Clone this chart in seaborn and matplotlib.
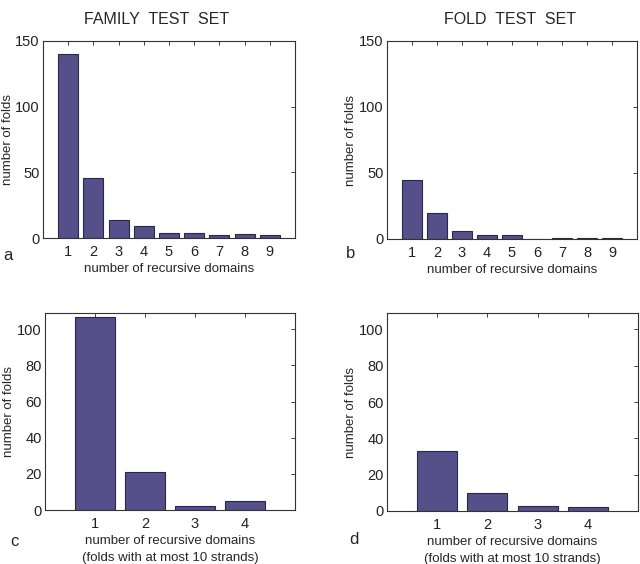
import pandas as pd
import matplotlib
matplotlib.use('Agg')
import matplotlib.pyplot as plt
import seaborn as sns

# number of recursive domains
domains_all = [1, 2, 3, 4, 5, 6, 7, 8, 9]
domains_small = [1, 2, 3, 4]

# a: family test set, b: fold test set
family_counts = [140, 46, 14, 9, 4, 4, 2, 3, 2]
fold_counts = [45, 20, 6, 3, 3, 0, 1, 1, 1]

# c, d: folds with at most 10 strands
family_small = [107, 21, 2, 5]
fold_small = [33, 10, 3, 2]

bar_color = '#55508a'
edge_color = '#2a2848'

sns.set_style('white')
plt.rcParams['font.family'] = ['Liberation Sans', 'DejaVu Sans']

W, H = 640, 564
fig = plt.figure(figsize=(W / 100, H / 100), dpi=100)


def make_axes(left, top, right, bottom):
    return fig.add_axes([left / W, 1 - bottom / H, (right - left) / W, (bottom - top) / H])


def draw_panel(ax, x, y, xmax, ymax, yticks, xlabel, letter, lx, ly, ylab_x, box):
    df = pd.DataFrame({'domains': x, 'folds': y})
    sns.barplot(data=df, x='domains', y='folds', native_scale=True, color=bar_color,
                edgecolor=edge_color, linewidth=0.8, saturation=1, width=0.8, ax=ax)
    ax.set_xlim(0, xmax)
    ax.set_ylim(0, ymax)
    ax.set_xticks(x)
    ax.set_xticklabels([str(v) for v in x])
    ax.set_yticks(yticks)
    ax.tick_params(direction='in', top=True, right=True, length=3, width=0.6,
                   labelsize=10.5, colors='#222222')
    ax.tick_params(axis='y', pad=2.5)
    ax.tick_params(axis='x', pad=5)
    for s in ax.spines.values():
        s.set_linewidth(0.8)
        s.set_color('#333333')
    ax.set_xlabel(xlabel, fontsize=9.5, labelpad=3, linespacing=1.5)
    ax.set_ylabel('number of folds', fontsize=9.5)
    left, right = box
    # ylabel x coordinate is the right edge of the rotated text
    ax.yaxis.set_label_coords((ylab_x - left) / (right - left), 0.5)
    fig.text(lx / W, 1 - ly / H, letter, fontsize=12, ha='left', va='center')


ax_a = make_axes(43, 41, 295, 238)
draw_panel(ax_a, domains_all, family_counts, 10, 150, [0, 50, 100, 150],
           'number of recursive domains', 'a', 3, 255, 14, (43, 295))

ax_b = make_axes(387, 41, 637, 239)
draw_panel(ax_b, domains_all, fold_counts, 10, 150, [0, 50, 100, 150],
           'number of recursive domains', 'b', 346, 253, 357, (387, 637))

ax_c = make_axes(45, 313, 295, 510)
draw_panel(ax_c, domains_small, family_small, 5, 109, [0, 20, 40, 60, 80, 100],
           'number of recursive domains\n(folds with at most 10 strands)', 'c', 10, 541,
           15, (45, 295))

ax_d = make_axes(387, 313, 638, 511)
draw_panel(ax_d, domains_small, fold_small, 5, 109, [0, 20, 40, 60, 80, 100],
           'number of recursive domains\n(folds with at most 10 strands)', 'd', 349, 539,
           357, (387, 638))

fig.text(157 / W, 1 - 20 / H, 'FAMILY  TEST  SET', fontsize=11.5, ha='center', va='center')
fig.text(510 / W, 1 - 20 / H, 'FOLD  TEST  SET', fontsize=11.5, ha='center', va='center')

fig.savefig('out.png', dpi=100)
